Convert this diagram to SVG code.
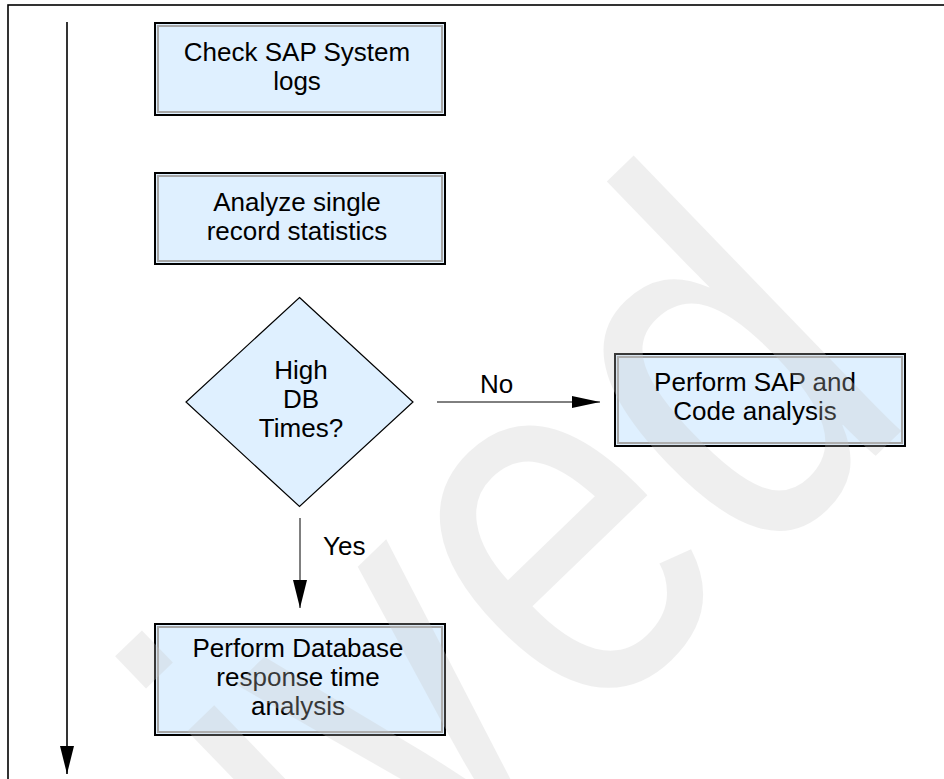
<svg xmlns="http://www.w3.org/2000/svg" width="944" height="779" viewBox="0 0 944 779">
<defs>
<style>
.box{fill:#dff0ff;stroke:#000;stroke-width:2}
.inner{fill:none;stroke:#a6a6a6;stroke-width:2}
.dia{fill:#dff0ff;stroke:#000;stroke-width:1.2}
.t{font-family:"Liberation Sans",Arial,sans-serif;font-size:26px;fill:#000;text-anchor:middle}
.lbl{font-family:"Liberation Sans",Arial,sans-serif;font-size:26px;fill:#000}
.conn{stroke:#000;fill:none}
.wm{font-family:"Liberation Sans",Arial,sans-serif;font-size:530px;fill:#c8c8c8;opacity:0.28;text-anchor:end}
</style>
<marker id="ah" markerUnits="userSpaceOnUse" markerWidth="28" markerHeight="14" refX="28" refY="7" orient="auto">
<path d="M0,0 L28,7 L0,14 Z" fill="#000"/>
</marker>
<marker id="ah2" markerUnits="userSpaceOnUse" markerWidth="28" markerHeight="12" refX="28" refY="6" orient="auto">
<path d="M0,0 L28,6 L0,12 Z" fill="#000"/>
</marker>
</defs>
<rect x="8" y="5" width="960" height="800" fill="none" stroke="#000" stroke-width="1.6"/>
<g id="connectors">
<line class="conn" x1="67" y1="22" x2="67" y2="774" stroke-width="1.6" marker-end="url(#ah)"/>
<line class="conn" x1="300" y1="518" x2="300" y2="608" stroke-width="1" marker-end="url(#ah)"/>
<line class="conn" x1="437" y1="402" x2="600" y2="402" stroke-width="1" marker-end="url(#ah2)"/>
<text class="lbl" x="323" y="555">Yes</text>
<text class="lbl" x="496.5" y="393" text-anchor="middle">No</text>
</g>
<g id="n1">
<rect class="box" x="155" y="23" width="290" height="92"/>
<rect class="inner" x="158" y="26" width="284" height="86"/>
<text class="t" x="297" y="61">Check SAP System</text>
<text class="t" x="297" y="90">logs</text>
</g>
<g id="n2">
<rect class="box" x="155" y="173" width="290" height="91"/>
<rect class="inner" x="158" y="176" width="284" height="85"/>
<text class="t" x="297" y="210.5">Analyze single</text>
<text class="t" x="297" y="239.5">record statistics</text>
</g>
<g id="n3">
<polygon class="dia" points="299.5,297.5 413,402 299.5,506.5 186,402"/>
<text class="t" x="301" y="379">High</text>
<text class="t" x="301" y="408">DB</text>
<text class="t" x="301" y="437">Times?</text>
</g>
<g id="n4">
<rect class="box" x="615" y="354" width="290" height="92"/>
<rect class="inner" x="618" y="357" width="284" height="86"/>
<text class="t" x="755" y="391">Perform SAP and</text>
<text class="t" x="755" y="420">Code analysis</text>
</g>
<g id="n5">
<rect class="box" x="155" y="624" width="290" height="111"/>
<rect class="inner" x="158" y="627" width="284" height="105"/>
<text class="t" x="298" y="657">Perform Database</text>
<text class="t" x="298" y="686">response time</text>
<text class="t" x="298" y="715">analysis</text>
</g>
<text class="wm" transform="translate(921,412) rotate(-44) scale(0.8,1)">Archived</text>
</svg>
